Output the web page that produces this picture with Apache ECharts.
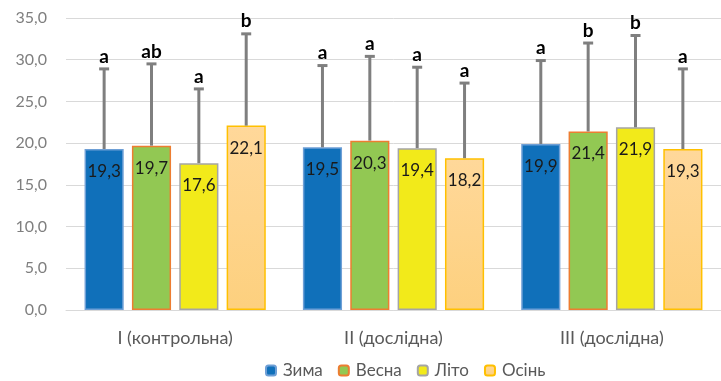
<!DOCTYPE html>
<html>
<head>
<meta charset="utf-8">
<script src="https://cdn.jsdelivr.net/npm/echarts@6/dist/echarts.min.js"></script>
<style>
  html, body { margin: 0; padding: 0; background: #ffffff; overflow: hidden; }
  #chart { width: 721px; height: 381px; }
</style>
</head>
<body>
<div id="chart"></div>
<script>
// Groups and seasons
const categories = ['I (контрольна)', 'II (дослідна)', 'III (дослідна)'];
const seasons = ['Зима', 'Весна', 'Літо', 'Осінь'];

// Mean values per season across the groups
const zyma  = [19.3, 19.5, 19.9];
const vesna = [19.7, 20.3, 21.4];
const lito  = [17.6, 19.4, 21.9];
const osin  = [22.1, 18.2, 19.3];

// Upper error (deviation) per season across the groups
const zymaErr  = [9.6, 9.8, 10.0];
const vesnaErr = [9.8, 10.1, 10.6];
const litoErr  = [8.9, 9.7, 11.0];
const osinErr  = [11.0, 9.0, 9.6];

// Significance letters per season across the groups
const zymaSig  = ['a', 'a', 'a'];
const vesnaSig = ['ab', 'a', 'b'];
const litoSig  = ['a', 'a', 'b'];
const osinSig  = ['b', 'a', 'a'];

// Y-axis range
const yMin = 0, yMax = 35, yStep = 5;

const means = [zyma, vesna, lito, osin];
const errs = [zymaErr, vesnaErr, litoErr, osinErr];
const sigs = [zymaSig, vesnaSig, litoSig, osinSig];

const fills = ['#1070BA', '#92C853', '#F2EA1A', '#FDD588'];
const borders = ['#6E9FD6', '#ED7D31', '#A5A5A5', '#FFC000'];

const CAT_GAP = 0.17;
const BAR_GAP = 0.21;
const FONT = 'Lato, "Open Sans", sans-serif';
const fmt = v => v.toFixed(1).replace('.', ',');

const barSeries = seasons.map((name, i) => ({
  name: name,
  type: 'bar',
  data: means[i],
  barGap: (BAR_GAP * 100) + '%',
  barCategoryGap: (CAT_GAP * 100) + '%',
  itemStyle: {
    color: i === 3 ? new echarts.graphic.LinearGradient(0, 0, 0, 1, [
      { offset: 0, color: '#FFD89A' },
      { offset: 1, color: '#FDD07E' }
    ]) : fills[i],
    borderColor: borders[i],
    borderWidth: 1.5
  },
  label: {
    show: true,
    position: 'insideTop',
    distance: 14,
    formatter: p => fmt(p.value),
    fontFamily: FONT,
    fontSize: 17,
    color: '#1a1a1a'
  },
  z: 2
}));

// Error whiskers with caps and significance letters, placed over each bar
function makeErrSeries(i) {
  return {
    name: seasons[i] + '-err',
    type: 'custom',
    data: means[i].map((m, k) => [k, m, m + errs[i][k], sigs[i][k]]),
    encode: { x: 0, y: [1, 2] },
    z: 3,
    silent: true,
    renderItem: function (params, api) {
      const k = api.value(0);
      const base = api.coord([k, api.value(1)]);
      const top = api.coord([k, api.value(2)]);
      const band = api.size([1, 0])[0];
      const n = seasons.length;
      const bw = band * (1 - CAT_GAP) / (n + (n - 1) * BAR_GAP);
      const total = n * bw + (n - 1) * bw * BAR_GAP;
      const x = base[0] - total / 2 + i * bw * (1 + BAR_GAP) + bw / 2;
      const style = { stroke: '#7F7F7F', lineWidth: 3 };
      return {
        type: 'group',
        children: [
          { type: 'line', shape: { x1: x, y1: base[1], x2: x, y2: top[1] }, style: style },
          { type: 'line', shape: { x1: x - 5, y1: top[1], x2: x + 5, y2: top[1] }, style: style },
          {
            type: 'text',
            style: {
              x: x, y: top[1] - 3,
              text: sigs[i][k],
              textAlign: 'center',
              textVerticalAlign: 'bottom',
              fontFamily: FONT,
              fontWeight: 'bold',
              fontSize: 19,
              fill: '#000000'
            }
          }
        ]
      };
    }
  };
}

const chart = echarts.init(document.getElementById('chart'), null, { renderer: 'canvas' });
chart.setOption({
  animation: false,
  backgroundColor: '#ffffff',
  grid: { left: 66, right: -9, top: 18, bottom: 71, containLabel: false },
  legend: {
    data: seasons,
    bottom: 2,
    left: 265,
    padding: 0,
    itemWidth: 10,
    itemHeight: 10,
    itemGap: 15,
    textStyle: { fontFamily: FONT, fontSize: 17, color: '#595959', padding: [0, 0, 0, 2] }
  },
  xAxis: {
    type: 'category',
    data: categories,
    axisLine: { lineStyle: { color: '#D9D9D9', width: 1 } },
    axisTick: { show: false },
    axisLabel: { fontFamily: FONT, fontSize: 18, color: '#595959', margin: 19 }
  },
  yAxis: {
    type: 'value',
    min: yMin,
    max: yMax,
    interval: yStep,
    axisLine: { show: false },
    axisTick: { show: false },
    splitLine: { lineStyle: { color: '#D9D9D9', width: 1 } },
    axisLabel: { fontFamily: FONT, fontSize: 16, color: '#7F7F7F', margin: 19, formatter: v => fmt(v) }
  },
  series: barSeries.concat(seasons.map((s, i) => makeErrSeries(i)))
});
</script>
</body>
</html>
